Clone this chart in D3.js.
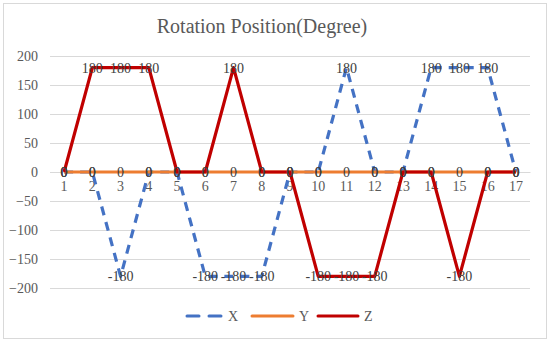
<!DOCTYPE html>
<html>
<head>
<meta charset="utf-8">
<script src="https://cdn.jsdelivr.net/npm/d3@7"></script>
<style>
  body { margin: 0; background: #fff; }
  text { font-family: "Liberation Serif", "Times New Roman", serif; }
</style>
</head>
<body>
<div id="chart"></div>
<script>
const categories = ["1","2","3","4","5","6","7","8","9","10","11","12","13","14","15","16","17"];
const xValues = [0, 0, -180, 0, 0, -180, -180, -180, 0, 0, 180, 0, 0, 180, 180, 180, 0];
const yValues = [0, 0, 0, 0, 0, 0, 0, 0, 0, 0, 0, 0, 0, 0, 0, 0, 0];
const zValues = [0, 180, 180, 180, 0, 0, 180, 0, 0, -180, -180, -180, 0, 0, -180, 0, 0];
const yTicks = [-200, -150, -100, -50, 0, 50, 100, 150, 200];

const series = [
  { name: "X", values: xValues, color: "#4472C4", dash: "9,7" },
  { name: "Y", values: yValues, color: "#ED7D31", dash: null },
  { name: "Z", values: zValues, color: "#C00000", dash: null }
];

const W = 550, H = 342;
const margin = { top: 56, right: 20, bottom: 54, left: 50 };
const width = W - margin.left - margin.right;
const height = H - margin.top - margin.bottom;

const svg = d3.select("#chart").append("svg")
  .attr("width", W)
  .attr("height", H);

// Chart border
svg.append("rect")
  .attr("x", 3.5).attr("y", 3.5)
  .attr("width", W - 7).attr("height", H - 7)
  .attr("fill", "#fff")
  .attr("stroke", "#d9d9d9");

svg.append("text")
  .attr("x", 262).attr("y", 33)
  .attr("text-anchor", "middle")
  .style("font-size", "20px")
  .style("fill", "#595959")
  .text("Rotation Position(Degree)");

const g = svg.append("g")
  .attr("transform", `translate(${margin.left},${margin.top})`);

const xScale = d3.scaleBand()
  .domain(categories)
  .range([0, width]);

const yScale = d3.scaleLinear()
  .domain([-200, 200])
  .range([height, 0]);

const cx = i => xScale(categories[i]) + xScale.bandwidth() / 2;

// Grid
g.append("g")
  .call(d3.axisLeft(yScale).tickValues(yTicks).tickSize(-width).tickFormat(""))
  .call(a => a.select(".domain").remove())
  .selectAll("line")
  .style("stroke", "#d9d9d9");

// Y tick labels
g.append("g")
  .call(d3.axisLeft(yScale).tickValues(yTicks).tickSize(0).tickPadding(12))
  .call(a => a.select(".domain").remove())
  .selectAll("text")
  .style("font-size", "14px")
  .style("fill", "#595959");

// X axis at zero
g.append("g")
  .attr("transform", `translate(0,${yScale(0)})`)
  .call(d3.axisBottom(xScale).tickSize(0).tickPadding(9))
  .call(a => a.select(".domain").style("stroke", "#d9d9d9"))
  .selectAll("text")
  .style("font-size", "14px")
  .style("fill", "#595959");

// Lines
const line = d3.line()
  .x((d, i) => cx(i))
  .y(d => yScale(d));

series.forEach(s => {
  g.append("path")
    .datum(s.values)
    .attr("fill", "none")
    .attr("stroke", s.color)
    .attr("stroke-width", 3.2)
    .attr("stroke-dasharray", s.dash)
    .attr("stroke-linejoin", "round")
    .attr("d", line);
});

// Data labels
series.forEach(s => {
  g.selectAll(null)
    .data(s.values)
    .enter().append("text")
    .attr("x", (d, i) => cx(i))
    .attr("y", d => yScale(d))
    .attr("dy", "0.35em")
    .attr("text-anchor", "middle")
    .style("font-size", "14px")
    .style("fill", "#404040")
    .text(d => d);
});

// Legend
const legend = svg.append("g").attr("transform", "translate(0,316)");
const legendItems = [
  { s: series[0], x: 187, len: 35 },
  { s: series[1], x: 252, len: 41 },
  { s: series[2], x: 318, len: 40 }
];
legendItems.forEach(it => {
  legend.append("line")
    .attr("x1", it.x).attr("x2", it.x + it.len)
    .attr("y1", 0).attr("y2", 0)
    .attr("stroke", it.s.color)
    .attr("stroke-width", 3)
    .attr("stroke-linecap", "round")
    .attr("stroke-dasharray", it.s.dash ? "12,10" : null);
  legend.append("text")
    .attr("x", it.x + it.len + 6).attr("y", 0)
    .attr("dy", "0.35em")
    .style("font-size", "14px")
    .style("fill", "#595959")
    .text(it.s.name);
});
</script>
</body>
</html>
